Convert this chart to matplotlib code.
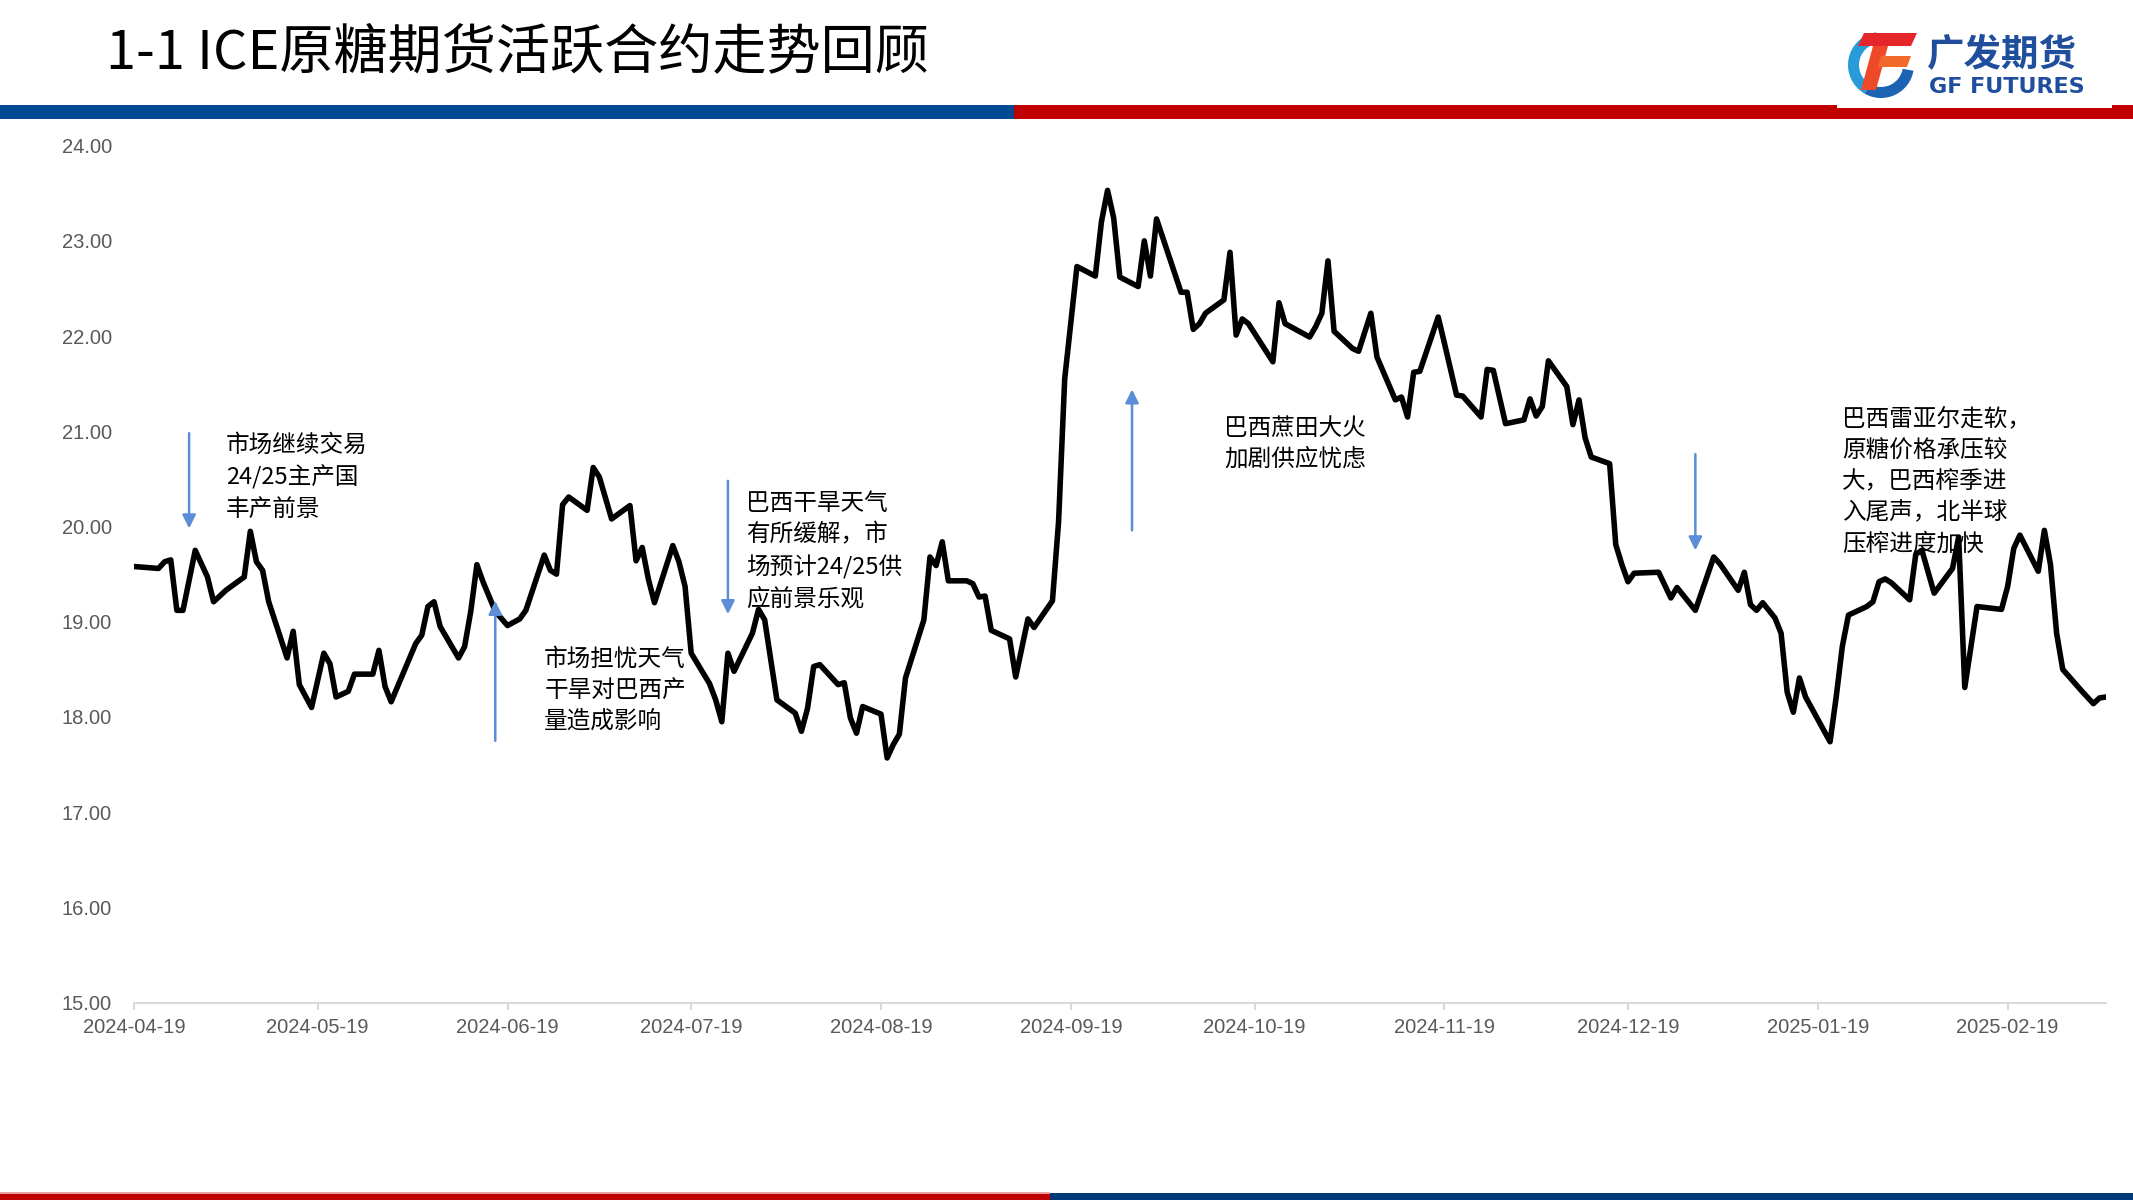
import matplotlib
matplotlib.use("Agg")
import matplotlib.pyplot as plt
import matplotlib.dates as mdates
from matplotlib.patches import Rectangle, Wedge, Polygon
import pandas as pd

# ---------------- data ----------------
dates = [
    "2024-04-19", "2024-04-23", "2024-04-24", "2024-04-25", "2024-04-26", "2024-04-27", "2024-04-29", "2024-05-01",
    "2024-05-02", "2024-05-04", "2024-05-07", "2024-05-08", "2024-05-09", "2024-05-10", "2024-05-11", "2024-05-14",
    "2024-05-15", "2024-05-16", "2024-05-18", "2024-05-20", "2024-05-21", "2024-05-22", "2024-05-24", "2024-05-25",
    "2024-05-28", "2024-05-29", "2024-05-30", "2024-05-31", "2024-06-04", "2024-06-05", "2024-06-06", "2024-06-07",
    "2024-06-08", "2024-06-11", "2024-06-12", "2024-06-13", "2024-06-14", "2024-06-15", "2024-06-17", "2024-06-19",
    "2024-06-21", "2024-06-22", "2024-06-25", "2024-06-26", "2024-06-27", "2024-06-28", "2024-06-29", "2024-07-02",
    "2024-07-03", "2024-07-04", "2024-07-06", "2024-07-09", "2024-07-10", "2024-07-11", "2024-07-12", "2024-07-13",
    "2024-07-16", "2024-07-17", "2024-07-18", "2024-07-19", "2024-07-22", "2024-07-23", "2024-07-24", "2024-07-25",
    "2024-07-26", "2024-07-29", "2024-07-30", "2024-07-31", "2024-08-02", "2024-08-05", "2024-08-06", "2024-08-07",
    "2024-08-08", "2024-08-09", "2024-08-12", "2024-08-13", "2024-08-14", "2024-08-15", "2024-08-16", "2024-08-19",
    "2024-08-20", "2024-08-21", "2024-08-22", "2024-08-23", "2024-08-26", "2024-08-27", "2024-08-28", "2024-08-29",
    "2024-08-30", "2024-09-02", "2024-09-03", "2024-09-04", "2024-09-05", "2024-09-06", "2024-09-09", "2024-09-10",
    "2024-09-12", "2024-09-13", "2024-09-16", "2024-09-17", "2024-09-18", "2024-09-20", "2024-09-23", "2024-09-24",
    "2024-09-25", "2024-09-26", "2024-09-27", "2024-09-30", "2024-10-01", "2024-10-02", "2024-10-03", "2024-10-07",
    "2024-10-08", "2024-10-09", "2024-10-10", "2024-10-11", "2024-10-14", "2024-10-15", "2024-10-16", "2024-10-17",
    "2024-10-18", "2024-10-22", "2024-10-23", "2024-10-24", "2024-10-28", "2024-10-29", "2024-10-30", "2024-10-31",
    "2024-11-01", "2024-11-04", "2024-11-05", "2024-11-07", "2024-11-08", "2024-11-11", "2024-11-12", "2024-11-13",
    "2024-11-14", "2024-11-15", "2024-11-18", "2024-11-19", "2024-11-21", "2024-11-22", "2024-11-25", "2024-11-26",
    "2024-11-27", "2024-11-29", "2024-12-02", "2024-12-03", "2024-12-04", "2024-12-05", "2024-12-06", "2024-12-09",
    "2024-12-10", "2024-12-11", "2024-12-12", "2024-12-13", "2024-12-16", "2024-12-17", "2024-12-18", "2024-12-19",
    "2024-12-20", "2024-12-24", "2024-12-26", "2024-12-27", "2024-12-30", "2025-01-02", "2025-01-03", "2025-01-06",
    "2025-01-07", "2025-01-08", "2025-01-09", "2025-01-10", "2025-01-12", "2025-01-13", "2025-01-14", "2025-01-15",
    "2025-01-16", "2025-01-17", "2025-01-21", "2025-01-22", "2025-01-23", "2025-01-24", "2025-01-27", "2025-01-28",
    "2025-01-29", "2025-01-30", "2025-01-31", "2025-02-03", "2025-02-04", "2025-02-05", "2025-02-07", "2025-02-10",
    "2025-02-11", "2025-02-12", "2025-02-14", "2025-02-18", "2025-02-19", "2025-02-20", "2025-02-21", "2025-02-24",
    "2025-02-25", "2025-02-26", "2025-02-27", "2025-02-28", "2025-03-03", "2025-03-05", "2025-03-06", "2025-03-07",
]
prices = [
    19.58, 19.56, 19.63, 19.65, 19.12, 19.12, 19.75, 19.47,
    19.21, 19.33, 19.47, 19.95, 19.63, 19.54, 19.21, 18.62,
    18.90, 18.34, 18.10, 18.67, 18.56, 18.21, 18.27, 18.45,
    18.45, 18.70, 18.32, 18.16, 18.77, 18.86, 19.16, 19.21,
    18.95, 18.62, 18.74, 19.11, 19.60, 19.42, 19.11, 18.96,
    19.03, 19.12, 19.70, 19.54, 19.50, 20.23, 20.31, 20.17,
    20.62, 20.52, 20.08, 20.22, 19.64, 19.78, 19.45, 19.20,
    19.80, 19.63, 19.37, 18.67, 18.35, 18.18, 17.95, 18.67,
    18.48, 18.88, 19.13, 19.02, 18.18, 18.04, 17.85, 18.09,
    18.53, 18.55, 18.34, 18.36, 17.99, 17.83, 18.11, 18.03,
    17.57, 17.71, 17.82, 18.41, 19.02, 19.68, 19.59, 19.84,
    19.43, 19.43, 19.40, 19.26, 19.27, 18.91, 18.82, 18.42,
    19.03, 18.94, 19.22, 20.05, 21.55, 22.73, 22.63, 23.20,
    23.53, 23.24, 22.62, 22.52, 23.00, 22.63, 23.23, 22.46,
    22.46, 22.07, 22.13, 22.24, 22.38, 22.88, 22.01, 22.18,
    22.13, 21.73, 22.35, 22.13, 21.99, 22.10, 22.24, 22.79,
    22.05, 21.87, 21.84, 22.24, 21.78, 21.33, 21.36, 21.15,
    21.62, 21.63, 22.20, 21.93, 21.38, 21.37, 21.15, 21.65,
    21.64, 21.08, 21.12, 21.34, 21.16, 21.26, 21.74, 21.47,
    21.07, 21.33, 20.93, 20.73, 20.66, 19.81, 19.60, 19.42,
    19.51, 19.52, 19.25, 19.36, 19.12, 19.68, 19.61, 19.33,
    19.52, 19.18, 19.12, 19.20, 19.04, 18.88, 18.26, 18.05,
    18.41, 18.21, 17.74, 18.21, 18.74, 19.07, 19.16, 19.21,
    19.42, 19.45, 19.41, 19.23, 19.71, 19.75, 19.30, 19.56,
    19.89, 18.31, 19.16, 19.13, 19.37, 19.77, 19.91, 19.53,
    19.96, 19.60, 18.88, 18.50, 18.28, 18.14, 18.20, 18.21,
]
tick_dates = [
    "2024-04-19", "2024-05-19", "2024-06-19", "2024-07-19", "2024-08-19", "2024-09-19",
    "2024-10-19", "2024-11-19", "2024-12-19", "2025-01-19", "2025-02-19",
]
y_ticks = [15, 16, 17, 18, 19, 20, 21, 22, 23, 24]
title = "1-1 ICE原糖期货活跃合约走势回顾"
# (arrow date, arrow start, arrow end, text date, text centre y, text)
notes = [
    ("2024-04-28", 20.98, 19.98, "2024-05-04", 20.52, "市场继续交易\n24/25主产国\n丰产前景"),
    ("2024-06-17", 17.75, 19.22, "2024-06-25", 18.28, "市场担忧天气\n干旱对巴西产\n量造成影响"),
    ("2024-07-25", 20.48, 19.08, "2024-07-28", 19.74, "巴西干旱天气\n有所缓解，市\n场预计24/25供\n应前景乐观"),
    ("2024-09-29", 19.96, 21.44, "2024-10-14", 20.87, "巴西蔗田大火\n加剧供应忧虑"),
    ("2024-12-30", 20.76, 19.75, "2025-01-23", 20.47,
     "巴西雷亚尔走软，\n原糖价格承压较\n大，巴西榨季进\n入尾声，北半球\n压榨进度加快"),
]

CJK = ["Noto Sans CJK SC", "DejaVu Sans"]
LAT = ["Liberation Sans", "DejaVu Sans"]

W, H = 2133, 1200
fig = plt.figure(figsize=(W / 100, H / 100), dpi=100)
fig.patch.set_facecolor("white")

# ---------------- decoration layer (pixel coordinates) ----------------
ov = fig.add_axes([0, 0, 1, 1], zorder=0)
ov.set_xlim(0, W)
ov.set_ylim(H, 0)
ov.axis("off")

ov.add_patch(Rectangle((0, 105), 1014, 14, color="#004A94", lw=0))
ov.add_patch(Rectangle((1014, 105), W - 1014, 14, color="#C00000", lw=0))
ov.add_patch(Rectangle((1837, 0), 275, 108, color="white", lw=0))
ov.add_patch(Rectangle((0, 1193), 1050, 7, color="#C00000", lw=0))
ov.add_patch(Rectangle((0, 1192), 1050, 1.5, color="#E8A0A0", lw=0))
ov.add_patch(Rectangle((1050, 1193), W - 1050, 7, color="#003A78", lw=0))

# logo emblem
cx, cy, r = 1881, 65, 33
ov.add_patch(Wedge((cx, cy), r, 10, 120, width=11, color="#1D63B4", lw=0))
ov.add_patch(Wedge((cx, cy), r, 120, 262, width=11, color="#2A9BD9", lw=0))
ov.add_patch(Polygon([(1864, 33), (1917, 33), (1911, 46), (1858, 46)], closed=True,
                     color="#E4262B", lw=0))
ov.add_patch(Polygon([(1873, 46), (1888, 46), (1876, 90), (1861, 90)], closed=True,
                     color="#EE4A2A", lw=0))
ov.add_patch(Polygon([(1881, 56), (1911, 56), (1907, 67), (1878, 67)], closed=True,
                     color="#F26A2A", lw=0))
ov.text(1927, 55, "广发期货", fontsize=27, fontweight="bold", color="#1F4E9C",
        family=CJK, ha="left", va="center")
ov.text(1929, 87, "GF FUTURES", fontsize=16, fontweight="bold", color="#1F4E9C",
        family=["DejaVu Sans"], ha="left", va="center")

fig.text(106 / W, 1 - 68 / H, title, fontsize=39, color="black", family=CJK,
         ha="left", va="baseline")

# ---------------- chart ----------------
left, right, top, bottom = 134, 2105.6, 145.6, 1002.7
ax = fig.add_axes([left / W, 1 - bottom / H, (right - left) / W, (bottom - top) / H], zorder=2)
ax.patch.set_alpha(0)

x = pd.to_datetime(dates)
ax.plot(x, prices, color="black", lw=4.0, solid_joinstyle="round", solid_capstyle="round")

ax.set_xlim(x[0], x[-1])
ax.set_ylim(y_ticks[0], y_ticks[-1])
ax.set_yticks(y_ticks)
ax.set_yticklabels([f"{v:.2f}" for v in y_ticks])
ax.set_xticks(pd.to_datetime(tick_dates))
ax.set_xticklabels(tick_dates)

for s in ("top", "right", "left"):
    ax.spines[s].set_visible(False)
ax.spines["bottom"].set_color("#D9D9D9")
ax.spines["bottom"].set_linewidth(1.5)
ax.tick_params(axis="y", length=0, pad=16, labelsize=14.5, labelcolor="#595959")
ax.tick_params(axis="x", length=5, width=1.5, color="#D9D9D9", pad=6, labelsize=14.5,
               labelcolor="#595959")
for lbl in ax.get_xticklabels() + ax.get_yticklabels():
    lbl.set_fontfamily(LAT)

for adate, y0, y1, tdate, ty, txt in notes:
    xd = mdates.date2num(pd.Timestamp(adate))
    ax.annotate("", xy=(xd, y1), xytext=(xd, y0),
                arrowprops=dict(arrowstyle="-|>", color="#5B8ED6", lw=1.8,
                                mutation_scale=20, shrinkA=0, shrinkB=0))
    ax.text(mdates.date2num(pd.Timestamp(tdate)), ty, txt, fontsize=17, family=CJK,
            color="black", ha="left", va="center", linespacing=1.45)

fig.savefig("out.png", dpi=100, facecolor="white")
